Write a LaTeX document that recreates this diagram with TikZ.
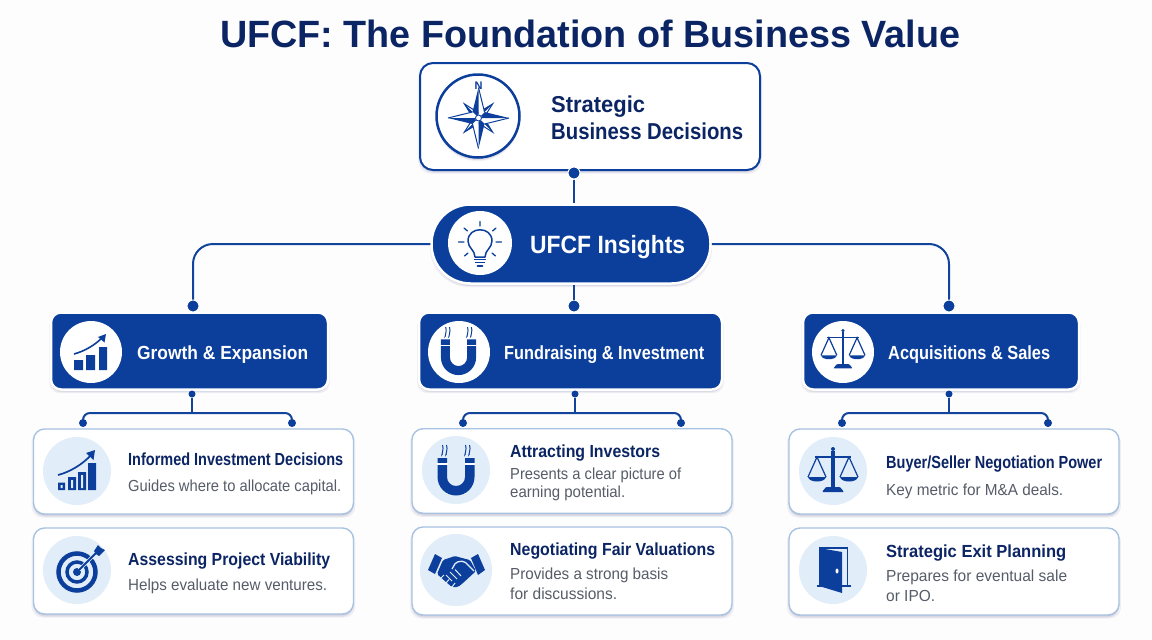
\documentclass[tikz,border=0pt]{standalone}
\usepackage{fontspec}
\usepackage{graphicx}
\setmainfont{Liberation Sans}
\usetikzlibrary{shadows,calc}
\definecolor{navy}{HTML}{0B3F9B}
\definecolor{ink}{HTML}{0B2464}
\definecolor{grayt}{HTML}{565C68}
\definecolor{edge}{HTML}{A8C2E2}
\definecolor{pale}{HTML}{E2EDFA}
\definecolor{conn}{HTML}{12449C}
\definecolor{bg}{HTML}{FDFDFE}
\newsavebox\fitbox
\newcommand{\fitw}[2]{\sbox\fitbox{#2}\pgfmathsetmacro\fitx{#1/\wd\fitbox}\scalebox{\fitx}[1]{\usebox\fitbox}}
\tikzset{
  softshadow/.style={
    drop shadow={shadow xshift=0pt,shadow yshift=-3pt,shadow scale=1.012,fill=black!70!blue,opacity=.06},
    drop shadow={shadow xshift=0pt,shadow yshift=-2.5pt,fill=black!70!blue,opacity=.08},
    drop shadow={shadow xshift=0pt,shadow yshift=-1pt,fill=black!70!blue,opacity=.10}},
  topbox/.style={draw=navy,line width=2pt,fill=white,rounded corners=13pt,inner sep=0,softshadow},
  pill/.style={draw=white,line width=2.5pt,fill=navy,rounded corners=39pt,inner sep=0,softshadow},
  header/.style={draw=white,line width=2.5pt,fill=navy,rounded corners=10pt,inner sep=0,softshadow},
  itembox/.style={draw=edge,line width=1.4pt,fill=white,rounded corners=11pt,inner sep=0,softshadow},
  disc/.style={circle,fill=white,inner sep=0,minimum size=62pt},
  palecirc/.style={circle,fill=pale,inner sep=0,minimum size=68pt},
  bigdot/.style={circle,fill=navy,draw=white,line width=1pt,inner sep=0,minimum size=12pt},
  smalldot/.style={circle,fill=navy,inner sep=0,minimum size=8pt},
  wire/.style={draw=conn,line width=2pt},
  lbl/.style={anchor=base west,inner sep=0},
  ttl/.style={lbl,text=ink,font=\fontsize{17.5}{19}\selectfont\bfseries},
  sub/.style={lbl,text=grayt,font=\fontsize{16}{18}\selectfont},
  hdr/.style={lbl,text=white,font=\fontsize{19}{21}\selectfont\bfseries},
}
\newcommand{\magnet}[4]{% x y scale colour
\begin{scope}[shift={(#1,#2)},scale=#3]
 \fill[#4] (-18.5,-19) -- (-18.5,0) arc[start angle=180,end angle=360,radius=18.5pt] -- (18.5,-19) -- (9,-19) -- (9,0) arc[start angle=0,end angle=-180,radius=9pt] -- (-9,-19) -- cycle;
 \draw[white,line width=1.1pt] (-19,-13) -- (-8.5,-13) (8.5,-13) -- (19,-13);
 \foreach \sx in {-11.5,11.5}{
  \draw[#4,line width=1pt] ($(\sx,-32)+(-2,0)$) .. controls +(2,3) and +(-2,4) .. ($(\sx,-23)+(-2,0)$);
  \draw[#4,line width=1pt] ($(\sx,-32)+(2,0)$) .. controls +(2,3) and +(-2,4) .. ($(\sx,-23)+(2,0)$);
 }
\end{scope}}
\newcommand{\balance}[3]{% x y scale
\begin{scope}[shift={(#1,#2)},scale=#3]
 \fill[navy] (-1.6,-20) rectangle (1.6,17);
 \fill[navy] (0,-22) circle[radius=2pt];
 \draw[navy,line width=1.6pt] (-18,-14) -- (18,-14);
 \draw[navy,line width=1.2pt] (-25,6) -- (-16,-14) -- (-7,6) (7,6) -- (16,-14) -- (25,6);
 \fill[navy] (-25,6) -- (-7,6) .. controls (-8,12) and (-24,12) .. cycle;
 \fill[navy] (7,6) -- (25,6) .. controls (24,12) and (8,12) .. cycle;
 \fill[navy,rounded corners=1pt] (-11,21) -- (-7,16) -- (7,16) -- (11,21) -- cycle;
\end{scope}}
\begin{document}
\begin{tikzpicture}[x=1pt,y=-1pt]
\useasboundingbox (0,0) rectangle (1152,640);
\fill[bg] (0,0) rectangle (1152,640);

% title
\node[lbl,text=ink,font=\fontsize{38}{40}\selectfont\bfseries] (title) at (220,47) {\fitw{740}{UFCF: The Foundation of Business Value}};

% main boxes
\node[topbox,minimum width=340pt,minimum height=107pt] (top) at (590,116.5) {};
\node[pill,minimum width=279pt,minimum height=79pt] (ufcf) at (571,244) {};
\node[header,minimum width=277pt,minimum height=77pt] (hg) at (189.5,351) {};
\node[header,minimum width=303pt,minimum height=77pt] (hf) at (570.5,351) {};
\node[header,minimum width=276pt,minimum height=77pt] (ha) at (941,351) {};

\node[itembox,minimum width=320pt,minimum height=85pt] (g1) at (193.5,471.5) {};
\node[itembox,minimum width=320pt,minimum height=86pt] (g2) at (193.5,571) {};
\node[itembox,minimum width=320pt,minimum height=84.5pt] (f1) at (572,471) {};
\node[itembox,minimum width=320pt,minimum height=88pt] (f2) at (572,571) {};
\node[itembox,minimum width=330pt,minimum height=85pt] (a1) at (954,471.5) {};
\node[itembox,minimum width=330pt,minimum height=87pt] (a2) at (954,571.5) {};

% dots
\node[bigdot] (dtop) at (574,173) {};
\node[bigdot] (dg) at (193,306) {};
\node[bigdot] (df) at (574,306) {};
\node[bigdot] (da) at (949,306) {};
\foreach \n/\x in {gb/192,fb/575,ab/949}
  \node[smalldot,minimum size=7pt] (\n) at (\x,394) {};
\foreach \n/\x in {gl/83,gr/292,fl/463,fr/681,al/842,ar/1048}
  \node[smalldot] (\n) at (\x,423) {};
\coordinate (gj) at (192,413);
\coordinate (fj) at (575,413);
\coordinate (aj) at (949,413);

% connectors
\draw[wire] (dtop) -- (dtop |- ufcf.north);
\draw[wire] (df |- ufcf.south) -- (df);
\draw[wire,rounded corners=20pt] (ufcf.west) -| (dg);
\draw[wire,rounded corners=20pt] (ufcf.east) -| (da);
\foreach \b/\j/\l/\r in {gb/gj/gl/gr,fb/fj/fl/fr,ab/aj/al/ar}{
  \draw[wire] (\b) -- (\j);
  \draw[wire,rounded corners=7pt] (\l) |- (\j) -| (\r);
}

% discs
\node[circle,draw=navy,line width=2.5pt,fill=white,inner sep=0,minimum size=83pt,softshadow] (cc) at (478,116) {};
\node[disc,minimum size=64pt] (cu) at (480,243) {};
\node[disc] (cg) at (91,352) {};
\node[disc] (cf) at (459,352) {};
\node[disc] (ca) at (843,352) {};
\node[palecirc] (c1) at (77,471) {};
\node[palecirc] (c2) at (77,570) {};
\node[palecirc] (c3) at (456,470) {};
\node[palecirc,minimum size=72pt] (c4) at (456,570) {};
\node[palecirc] (c5) at (833,471) {};
\node[palecirc] (c6) at (833,570) {};

% compass
\begin{scope}[shift={(478.5,118)}]
 \node[text=navy,inner sep=0,font=\fontsize{11}{12}\selectfont\bfseries] (compassn) at (0,-32) {N};
 \foreach \a in {45,135,225,315}{
  \begin{scope}[rotate=\a]
   \fill[white] (0,0) -- (20,0) -- (4,4.5) -- cycle;
   \draw[navy,line width=1pt] (0,-4.5) -- (20,0) -- (0,4.5);
   \fill[navy] (4,0) -- (20,0) -- (4,-4.5) -- cycle;
  \end{scope}}
 \foreach \a in {0,90,180,270}{
  \begin{scope}[rotate=\a]
   \fill[white] (0,0) -- (30.5,0) -- (6,6) -- cycle;
   \fill[navy] (0,0) -- (30.5,0) -- (6,-6) -- cycle;
   \draw[navy,line width=1pt] (6,6) -- (30.5,0);
  \end{scope}}
 \fill[white] (0,0) circle[radius=3.5pt];
 \draw[navy,line width=.9pt] (0,0) circle[radius=3pt];
\end{scope}

% bulb
\begin{scope}[shift={(480,243)}]
 \draw[navy,line width=1.5pt,line join=round] (-5,14) .. controls (-5,7) and (-12,5) .. (-12,-2) .. controls (-12,-17) and (12,-17) .. (12,-2) .. controls (12,5) and (5,7) .. (5,14) -- cycle;
 \draw[navy,line width=1.8pt] (-6,16.5) -- (6,16.5) (-5,19.5) -- (5,19.5);
 \draw[navy,line width=1.8pt,line cap=round] (-2.5,23) -- (2.5,23);
 \draw[navy,line width=1.3pt,line cap=round] (0,-17) -- (0,-21.5) (-12.5,-12) -- (-16,-15) (12.5,-12) -- (16,-15) (-16,-1) -- (-21.5,-1) (16,-1) -- (21.5,-1) (-12,10) -- (-15.5,13) (12,10) -- (15.5,13);
\end{scope}

% growth header icon
\fill[navy] (74,360) rectangle (83,370) (86,355) rectangle (95,370) (99,347) rectangle (107,370);
\draw[navy,line width=1.6pt] (74,354) .. controls (85,351) and (95,345) .. (103,337);
\fill[navy] (106,334) -- (104.5,342.5) -- (98,337) -- cycle;

% chart item icon
\fill[navy] (58,482.5) rectangle (65,490) (68,477) rectangle (76,490) (78,472) rectangle (86,490) (88,463) rectangle (96,490);
\fill[pale] (60.5,485) rectangle (62.5,488) (71,480) rectangle (73,488) (81,475) rectangle (83,488);
\draw[navy,line width=1.7pt] (58,475) .. controls (70,472) and (83,464) .. (91,455);
\fill[navy] (95,450) -- (93.5,460) -- (86,453) -- cycle;

% target
\draw[navy,line width=4.5pt] (77,572) circle[radius=18.5pt];
\draw[navy,line width=3.5pt] (77,572) circle[radius=10pt];
\fill[navy] (77,572) circle[radius=4pt];
\draw[pale,line width=3.5pt] (79,570) -- (99,550);
\draw[navy,line width=1.8pt] (77,572) -- (97,552);
\fill[navy] (94,551) -- (98,545) -- (101,548) -- (105,550) -- (99,556) -- (96,554) -- cycle;

% magnets
\magnet{458.5}{357.5}{.95}{navy}
\magnet{456}{477}{1}{navy}

% handshake
\fill[navy] (428,570) -- (435,554) -- (442,558) -- (435,574) -- cycle;
\fill[navy] (471,558) -- (478,554) -- (485,570) -- (478,575) -- cycle;
\fill[navy,rounded corners=1.5pt] (443,560) -- (455,556) -- (462,558) -- (470,560) -- (476,571) -- (463,583) -- (458,587) -- (452,587) -- (446,582) -- (437,574) -- cycle;
\draw[pale,line width=1.3pt,rounded corners=2pt] (452,569) -- (456,562) -- (464,561) -- (474,571);
\draw[pale,line width=1pt] (446,575) -- (452,581) (450,572) -- (457,579) (455,569.5) -- (461,576) (441,578) -- (444,575) (446,583) -- (449,579.5) (452,587) -- (455,583);

% balances
\balance{843}{350}{.88}
\balance{833}{471}{1}

% door
\draw[navy,line width=1.5pt] (819,548) -- (847.5,548) -- (847.5,586);
\draw[navy,line width=1.5pt] (817,586) -- (851,586);
\fill[navy] (819,548) -- (842,552) -- (842,593) -- (819,586) -- cycle;
\fill[white] (837,571) ellipse[x radius=1.5pt,y radius=2.5pt];

% texts
\node[lbl,text=ink,font=\fontsize{23}{25}\selectfont\bfseries] (t1) at (551,112) {\fitw{94}{Strategic}};
\node[lbl,text=ink,font=\fontsize{23}{25}\selectfont\bfseries] (t2) at (551,139) {\fitw{192}{Business Decisions}};
\node[lbl,text=white,font=\fontsize{25}{27}\selectfont\bfseries] (t3) at (530,253) {\fitw{155}{UFCF Insights}};
\node[hdr] (t4) at (137,359) {\fitw{171}{Growth \& Expansion}};
\node[hdr] (t5) at (504,359) {\fitw{200}{Fundraising \& Investment}};
\node[hdr] (t6) at (888,359) {\fitw{162}{Acquisitions \& Sales}};

\node[ttl] (a) at (128,465) {\fitw{215}{Informed Investment Decisions}};
\node[sub] (b) at (128,491) {\fitw{213}{Guides where to allocate capital.}};
\node[ttl] (c) at (128,565) {\fitw{202}{Assessing Project Viability}};
\node[sub] (d) at (128,590) {\fitw{199}{Helps evaluate new ventures.}};

\node[ttl] (e) at (510,457) {\fitw{150}{Attracting Investors}};
\node[sub] (f) at (510,479) {\fitw{171}{Presents a clear picture of}};
\node[sub] (g) at (510,497) {\fitw{115}{earning potential.}};
\node[ttl] (h) at (510,555) {\fitw{205}{Negotiating Fair Valuations}};
\node[sub] (i) at (510,579) {\fitw{158}{Provides a strong basis}};
\node[sub] (j) at (510,599) {\fitw{107}{for discussions.}};

\node[ttl] (k) at (886,468) {\fitw{216}{Buyer/Seller Negotiation Power}};
\node[sub] (l) at (886,495) {\fitw{177}{Key metric for M\&A deals.}};
\node[ttl] (m) at (886,557) {\fitw{180}{Strategic Exit Planning}};
\node[sub] (n) at (886,581) {\fitw{181}{Prepares for eventual sale}};
\node[sub] (o) at (886,601) {\fitw{49}{or IPO.}};
\end{tikzpicture}
\end{document}
